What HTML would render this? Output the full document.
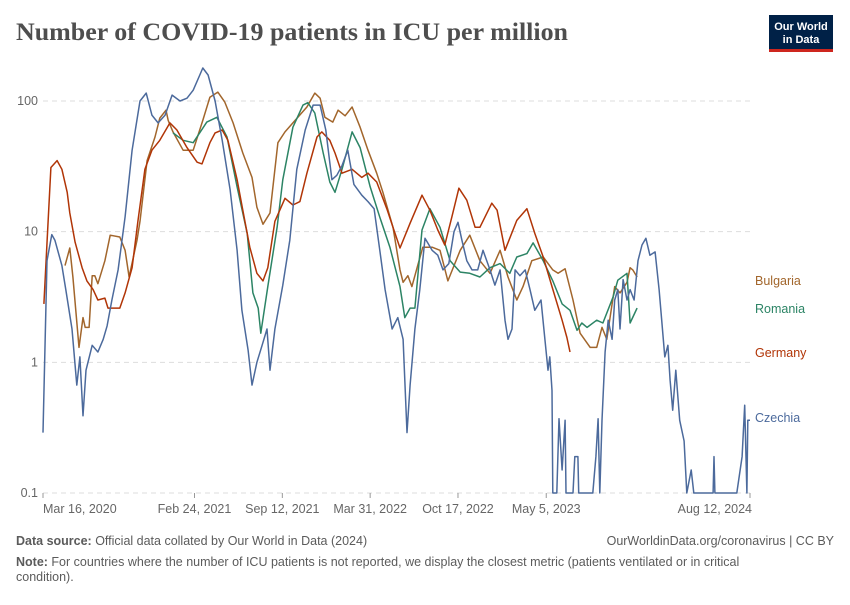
<!DOCTYPE html>
<html><head><meta charset="utf-8"><style>
body{margin:0;background:#fff;width:850px;height:600px;overflow:hidden;font-family:"Liberation Sans",sans-serif}
svg text{font-family:"Liberation Sans",sans-serif}
</style></head><body>
<svg id="chart" width="850" height="600" viewBox="0 0 850 600" xmlns="http://www.w3.org/2000/svg">
<text x="16" y="40" font-family="Liberation Serif, serif" font-size="25" font-weight="bold" fill="#4e4e4e" textLength="552" lengthAdjust="spacingAndGlyphs" style="font-family:'Liberation Serif',serif">Number of COVID-19 patients in ICU per million</text>
<g>
<rect x="769" y="15" width="64" height="35" fill="#002147"/>
<rect x="769" y="49" width="64" height="3" fill="#ce261e"/>
<text x="801" y="30" text-anchor="middle" font-size="11" fill="#fff" font-weight="bold">Our World</text>
<text x="801" y="43" text-anchor="middle" font-size="11" fill="#fff" font-weight="bold">in Data</text>
</g>
<g id="grid"></g>
<g id="yaxis"></g>
<g id="xaxis"></g>
<g id="series"></g>
<g id="labels"></g>
<text x="16" y="545" font-size="12.5" fill="#5b5b5b"><tspan font-weight="bold">Data source:</tspan> Official data collated by Our World in Data (2024)</text>
<text x="834" y="545" text-anchor="end" font-size="12.5" fill="#5b5b5b">OurWorldinData.org/coronavirus | CC BY</text>
<text x="16" y="566" font-size="12.5" fill="#5b5b5b"><tspan font-weight="bold">Note:</tspan> For countries where the number of ICU patients is not reported, we display the closest metric (patients ventilated or in critical</text>
<text x="16" y="581" font-size="12.5" fill="#5b5b5b">condition).</text>
</svg>
<script>
// days since 2020-03-16
const yTicks=[0.1,1,10,100];
const yTickLabels=["0.1","1","10","100"];
const xTickDays=[0,345,545,745,945,1146,1610];
const xTickLabels=["Mar 16, 2020","Feb 24, 2021","Sep 12, 2021","Mar 31, 2022","Oct 17, 2022","May 5, 2023","Aug 12, 2024"];
const czDays=[0,9,20,27,43,52,66,77,84,91,98,112,125,137,146,157,171,187,203,221,235,248,262,278,294,312,328,342,357,364,376,392,408,426,442,453,467,476,487,499,510,517,528,546,562,578,597,615,631,644,658,669,681,694,708,726,740,754,767,779,795,808,820,829,836,847,858,870,886,899,911,924,936,945,954,965,977,990,1002,1018,1029,1041,1052,1059,1068,1075,1086,1098,1109,1120,1134,1143,1150,1154,1159,1161,1170,1175,1182,1189,1191,1207,1211,1218,1220,1252,1259,1264,1268,1273,1280,1287,1296,1302,1309,1314,1321,1330,1337,1346,1355,1364,1373,1382,1394,1403,1409,1416,1423,1428,1434,1441,1450,1460,1466,1476,1482,1526,1528,1530,1580,1592,1598,1603,1605,1610];
const czValues=[0.29,6,9.5,8.6,5.5,3.6,1.8,0.67,1.1,0.39,0.87,1.35,1.2,1.5,1.9,3,5.1,13,42,100,115,78,68,78,111,100,105,121,158,179,158,100,50,21,7.2,2.5,1.24,0.67,1,1.35,1.8,0.87,1.8,3.9,8.6,30,60,93,93,60,25,27,32,42,23,19,17,15,7.2,3.6,1.8,2.2,1.5,0.29,0.67,1.8,3.6,8.9,7.2,6.6,5.1,5.7,10,11.8,8.6,6,5.1,5.1,7.2,5.1,3.9,5.1,2.1,1.5,1.8,5.1,4.6,5.1,3.6,2.5,3,1.5,0.87,1.1,0.61,0.1,0.1,0.37,0.15,0.36,0.1,0.1,0.19,0.19,0.1,0.1,0.19,0.37,0.1,0.36,1.2,2.1,1.5,3,3.6,1.8,4.3,3,3.6,3,6,7.9,8.9,6.6,7,3.6,2.1,1.1,1.35,0.73,0.43,0.87,0.36,0.25,0.1,0.15,0.1,0.1,0.19,0.1,0.1,0.19,0.47,0.1,0.36,0.36];
const bgDays=[50,61,68,82,91,96,105,112,118,125,141,153,175,187,196,214,221,237,255,266,280,285,296,319,342,364,380,398,414,433,455,476,487,501,517,535,551,569,601,619,631,642,660,672,688,704,722,740,760,774,797,813,820,831,840,852,865,886,904,922,950,972,995,1018,1041,1059,1079,1093,1113,1139,1161,1173,1189,1207,1223,1246,1261,1273,1284,1302,1314,1330,1337,1343,1353];
const bgValues=[5.5,7.5,4.5,1.3,2.2,1.85,1.85,4.6,4.6,4,6,9.4,9.1,7.2,4.5,8.6,12,35,53,74,85,71,58,42,42,71,107,117,98,68,40,26,15.4,11.4,13.9,48,58,68,90,115,105,75,69,85,77,90,63,42,28,20,10.8,5.1,4.1,4.6,3.8,5.3,7.6,7.6,7.2,4.2,7.2,9.4,6,4.8,7.2,4.5,3,3.8,6,6.4,5.1,4.8,5.2,3,1.67,1.3,1.3,1.85,1.5,3.8,3.4,4.1,5.3,5.1,4.5];
const deDays=[2,9,18,32,43,55,61,73,89,100,114,125,141,148,175,187,203,216,232,248,266,289,305,328,351,362,380,392,408,421,442,455,471,487,501,512,528,551,569,585,601,624,635,653,665,681,704,726,740,760,783,797,813,836,863,881,899,915,931,947,965,984,995,1022,1034,1052,1079,1102,1120,1139,1159,1182,1193,1200];
const deValues=[2.8,8.2,31,35,30,20,13.9,8.3,5.3,4.2,3.6,3,3.1,2.6,2.6,3.4,5.3,12,30,42,50,68,60,44,34,33,48,57,60,50,25,14.6,7.6,4.8,4.2,5.3,12,18,16,17,28,53,58,50,40,28,30,26,28,24,15,10.8,7.5,11.6,19,14.6,10.3,7.9,12.9,21.5,17.4,10.8,10.8,16.5,14.6,7.2,12.2,15,9.7,6.4,3.8,2.1,1.55,1.2];
const roDays=[296,319,342,373,396,419,442,465,478,490,496,512,533,546,569,592,603,619,638,653,665,681,704,722,745,767,790,813,824,836,847,863,881,904,927,950,972,995,1018,1041,1063,1079,1102,1116,1139,1161,1182,1200,1216,1227,1239,1261,1275,1298,1309,1330,1337,1353];
const roValues=[57,50,48,69,75,53,22,9.7,3.4,2.6,1.67,3.8,10.8,25,63,93,97,81,40,24,20,30,58,44,22,12.9,7.6,3.8,2.2,2.6,2.6,10.3,15,10.8,6,4.9,4.8,4.5,5.3,5.7,4.8,6.4,6.8,8.2,6,4.2,2.8,2.5,1.76,2,1.85,2.1,2,3.15,4.25,4.8,2,2.6];

const NS="http://www.w3.org/2000/svg";
const X0=43,X1=750,Y0=493,Y1=101,DMAX=1610;
function xs(d){return X0+(X1-X0)*d/DMAX;}
function ys(v){return Y0-(Y0-Y1)*(Math.log10(v)+1)/3;}
function mk(tag,attrs,parent){const e=document.createElementNS(NS,tag);for(const k in attrs)e.setAttribute(k,attrs[k]);parent.appendChild(e);return e;}
const grid=document.getElementById('grid'),yax=document.getElementById('yaxis'),xax=document.getElementById('xaxis'),ser=document.getElementById('series'),lab=document.getElementById('labels');
yTicks.forEach((v,i)=>{
  const l=mk('line',{x1:X0,x2:X1,y1:ys(v),y2:ys(v),stroke:'#dddddd','stroke-dasharray':'5,4'},grid);
  
  
  const t=mk('text',{x:38,y:ys(v)+4,'text-anchor':'end','font-size':12.5,fill:'#666'},yax);
  t.textContent=yTickLabels[i];
  
  
});
xTickDays.forEach((d,i)=>{
  const x=xs(d);
  const tk=mk('line',{x1:x,x2:x,y1:Y0,y2:Y0+5,stroke:'#999'},xax);
  
  
  const anchor=i===0?'start':(i===xTickDays.length-1?'end':'middle');
  const t=mk('text',{x:i===0?x:(i===xTickDays.length-1?x+2:x),y:Y0+20,'text-anchor':anchor,'font-size':12.5,fill:'#666'},xax);
  t.textContent=xTickLabels[i];
  
  
});
const S=[
 {name:'Bulgaria',d:bgDays,v:bgValues,c:'#a2662c',ly:285},
 {name:'Romania',d:roDays,v:roValues,c:'#2c8465',ly:313},
 {name:'Germany',d:deDays,v:deValues,c:'#b13507',ly:357},
 {name:'Czechia',d:czDays,v:czValues,c:'#4c6a9c',ly:422}
];
S.forEach(s=>{
  const pts=s.d.map((d,i)=>xs(d).toFixed(1)+','+ys(s.v[i]).toFixed(1)).join(' ');
  const p=mk('polyline',{points:pts,fill:'none',stroke:s.c,'stroke-width':1.5,'stroke-linejoin':'round'},ser);
  
  
  const t=mk('text',{x:755,y:s.ly,'font-size':12.5,fill:s.c},lab);
  t.textContent=s.name;
  
  
});
</script>
</body></html>
